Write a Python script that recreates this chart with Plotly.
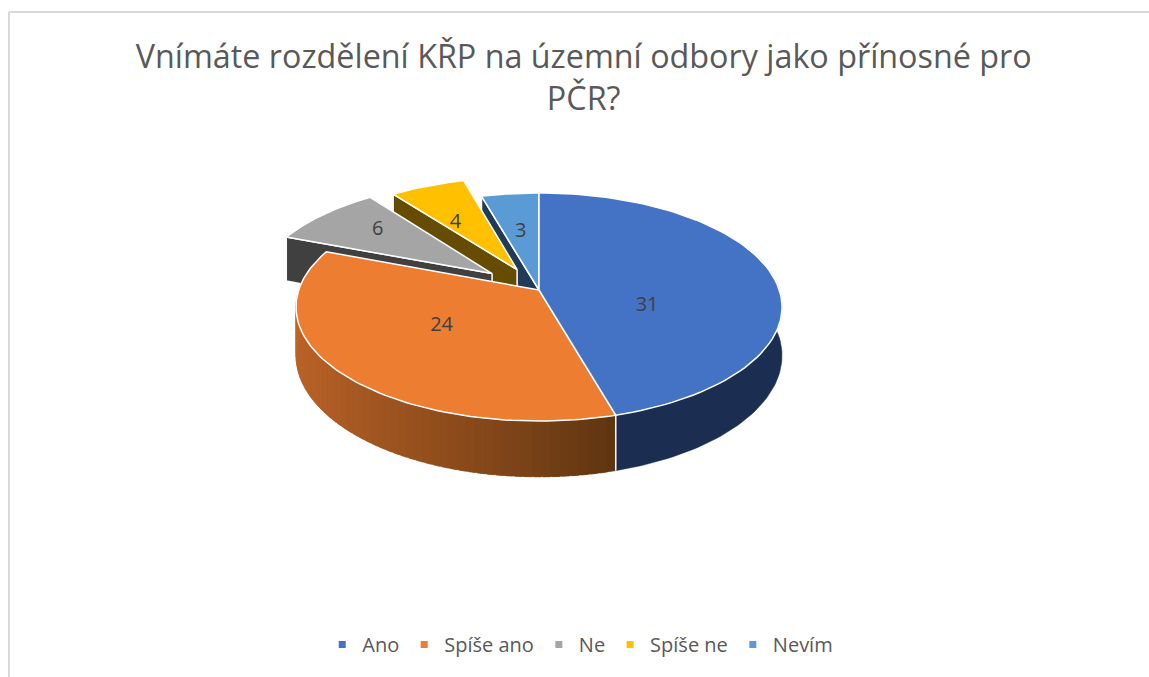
import numpy as np
import plotly.graph_objects as go

# --- data ---
categories = ["Ano", "Spíše ano", "Ne", "Spíše ne", "Nevím"]
values = [31, 24, 6, 4, 3]
title_lines = ["Vnímáte rozdělení KŘP na územní odbory jako přínosné pro", "PČR?"]

# --- styles ---
top_colors = ["#4472C4", "#ED7D31", "#A5A5A5", "#FFC000", "#5B9BD5"]
wall_colors = ["#1B2E52", None, "#404040", "#664C00", "#1F3B57"]
orange_wall_angles = [164, 185, 205, 235, 280]
orange_wall_rgb = [(94, 53, 16), (125, 68, 25), (150, 80, 30), (178, 95, 38), (196, 106, 44)]
explode = [0, 0, 0.25, 0.21, 0]
label_radius = [0.45, 0.53, 0.66, 0.66, 0.60]
label_nudge = [(2, 23), (2, -6), (0, -3), (0, 11), (0, 3)]
TEXT = "#595959"
FONT = "Open Sans"

# --- projection of the tilted disc onto the page ---
CX, CY, A, B, K, DEPTH, BOTTOM_SCALE = 539, 290, 240.3, 111.5, 0.149, 47.5, 1.0


def project(X, Y, lower=False):
    X, Y = np.asarray(X, float), np.asarray(Y, float)
    w = 1 - K * Y
    if lower:
        return CX + A * BOTTOM_SCALE * X / w, CY + B * Y / w + DEPTH / w
    return CX + A * X / w, CY + B * Y / w


def disc(theta_deg):
    t = np.radians(theta_deg)
    return np.sin(t), -np.cos(t)


total = sum(values)
edges = np.concatenate([[0], np.cumsum(values) / total * 360])
fig = go.Figure()


def poly(x, y, fill, line="white", width=1.5, group=None):
    fig.add_trace(go.Scatter(
        x=list(x), y=list(y), mode="lines", fill="toself", fillcolor=fill,
        line=dict(color=line, width=width), hoverinfo="skip",
        showlegend=False, legendgroup=group,
    ))


def offsets(i):
    mid = (edges[i] + edges[i + 1]) / 2
    dx, dy = disc(mid)
    return dx * explode[i], dy * explode[i]


def top_outline(i):
    ox, oy = offsets(i)
    th = np.linspace(edges[i], edges[i + 1], 90)
    X, Y = disc(th)
    return np.r_[ox, X + ox, ox], np.r_[oy, Y + oy, oy]


# legend entries, in series order
for name, color in zip(categories, top_colors):
    fig.add_trace(go.Scatter(
        x=[None], y=[None], mode="markers", name=name, legendgroup=name,
        marker=dict(symbol="square", size=7, color=color),
    ))

# far slices, back to front: cut face first, then the top
for i in (4, 3, 2):
    ox, oy = offsets(i)
    X, Y = disc(edges[i])
    px = np.array([ox, X + ox])
    py = np.array([oy, Y + oy])
    ux, uy = project(px, py)
    lx, ly = project(px, py, lower=True)
    poly(np.r_[ux, lx[::-1], ux[0]], np.r_[uy, ly[::-1], uy[0]], wall_colors[i],
         group=categories[i])
    tx, ty = top_outline(i)
    sx, sy = project(tx, ty)
    poly(sx, sy, top_colors[i], group=categories[i])

# orange rim, shaded strip by strip
strip_edges = np.linspace(edges[1], orange_wall_angles[-1], 61)
for a0, a1 in zip(strip_edges[:-1], strip_edges[1:]):
    mid = (a0 + a1) / 2
    rgb = [np.interp(mid, orange_wall_angles, [c[k] for c in orange_wall_rgb]) for k in range(3)]
    col = "rgb(%d,%d,%d)" % tuple(rgb)
    th = np.linspace(a0, a1 + 1.5, 4)
    X, Y = disc(th)
    ux, uy = project(X, Y)
    lx, ly = project(X, Y, lower=True)
    poly(np.r_[ux, lx[::-1], ux[0]], np.r_[uy, ly[::-1], uy[0]], col, line=col, width=0.5,
         group=categories[1])

# blue rim
th = np.linspace(60, edges[1], 80)
X, Y = disc(th)
ux, uy = project(X, Y)
lx, ly = project(X, Y, lower=True)
poly(np.r_[ux, lx[::-1], ux[0]], np.r_[uy, ly[::-1], uy[0]], wall_colors[0], line=wall_colors[0],
     width=0.5, group=categories[0])

# white seam between the two rims
X, Y = disc(edges[1])
ux, uy = project(X, Y)
lx, ly = project(X, Y, lower=True)
fig.add_trace(go.Scatter(x=[float(ux), float(lx)], y=[float(uy), float(ly)], mode="lines",
                         line=dict(color="white", width=1.5), hoverinfo="skip", showlegend=False))

# the two big tops
for i in (1, 0):
    tx, ty = top_outline(i)
    sx, sy = project(tx, ty)
    poly(sx, sy, top_colors[i], group=categories[i])

# data labels
lab_x, lab_y = [], []
for i in range(5):
    ox, oy = offsets(i)
    dx, dy = disc((edges[i] + edges[i + 1]) / 2)
    sx, sy = project(ox + dx * label_radius[i], oy + dy * label_radius[i])
    lab_x.append(float(sx) + label_nudge[i][0])
    lab_y.append(float(sy) + label_nudge[i][1])
fig.add_trace(go.Scatter(
    x=lab_x, y=lab_y, mode="text", text=[str(v) for v in values], textposition="middle center",
    textfont=dict(family=FONT, size=20, color="#404040"), hoverinfo="skip", showlegend=False,
))

# chart frame
frame = dict(color="#D9D9D9", width=2)
fig.add_shape(type="line", x0=9, x1=9, y0=12, y1=677, line=frame)
fig.add_shape(type="line", x0=9, x1=1149, y0=12, y1=12, line=frame)

fig.update_layout(
    width=1149, height=677, margin=dict(l=0, r=0, t=0, b=0),
    paper_bgcolor="white", plot_bgcolor="white",
    xaxis=dict(range=[0, 1149], visible=False, fixedrange=True),
    yaxis=dict(range=[677, 0], visible=False, fixedrange=True),
    title=dict(text="<br>".join(title_lines), x=0.508, xanchor="center", y=0.899, yanchor="top",
               font=dict(family=FONT, size=32.3, color=TEXT)),
    legend=dict(orientation="h", x=0.505, xanchor="center", y=0.048, yanchor="middle",
                font=dict(family=FONT, size=20, color=TEXT), bgcolor="rgba(0,0,0,0)",
                itemclick=False, itemdoubleclick=False),
)

fig.write_html("out.html", config={"displayModeBar": False},
               post_script="document.body.style.margin='0';document.body.style.overflow='hidden';")
